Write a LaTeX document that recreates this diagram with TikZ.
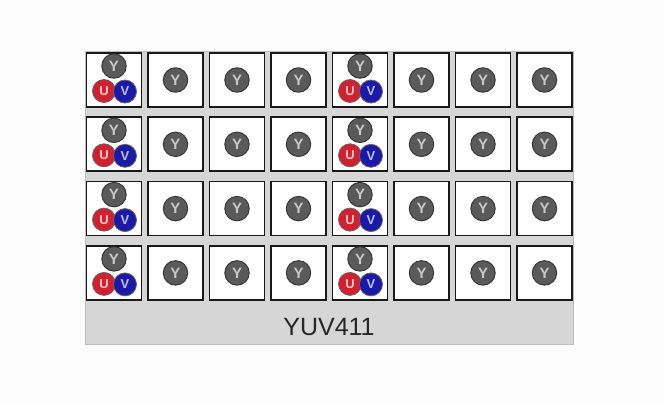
\documentclass[tikz,border=0pt]{standalone}
\usepackage{fontspec}
\setmainfont{Liberation Sans}
\definecolor{panelgray}{HTML}{D6D6D6}
\definecolor{paneledge}{HTML}{BDBDBD}
\definecolor{ygray}{HTML}{5A5A5A}
\definecolor{ured}{HTML}{D2202E}
\definecolor{vblue}{HTML}{1A1AA6}
\definecolor{lettergray}{HTML}{C8C8C8}
\begin{document}
\begin{tikzpicture}[x=1pt,y=-1pt,
  pixbox/.style={draw=black!90, line width=1.7pt, fill=white, minimum width=55pt, minimum height=54pt, inner sep=0pt},
  ydot/.style={circle, draw=black!80, line width=0.9pt, fill=ygray, minimum size=24.5pt, inner sep=0pt, text=lettergray, font=\bfseries\fontsize{15}{15}\selectfont},
  udot/.style={circle, draw=black!60, line width=0.8pt, fill=ured, minimum size=23pt, inner sep=0pt, text=red!20, font=\bfseries\fontsize{13}{13}\selectfont},
  vdot/.style={circle, draw=black!60, line width=0.8pt, fill=vblue, minimum size=23pt, inner sep=0pt, text=blue!25, font=\bfseries\fontsize{13}{13}\selectfont},
  lbl/.style={font=\fontsize{25}{25}\selectfont, text=black!85}
]
\useasboundingbox (0,0) rectangle (664,402);
\fill[white!99!black] (0,0) rectangle (664,402);
\node[draw=paneledge, line width=0.8pt, fill=panelgray, minimum width=488pt, minimum height=293pt, inner sep=0pt] (panel) at (329,197.5) {};
\foreach \r in {0,...,3}{
  \foreach \c in {0,...,7}{
    \pgfmathsetmacro{\cx}{114+61.5*\c}
    \pgfmathsetmacro{\cy}{80+64.3*\r}
    \node[pixbox] (b-\r-\c) at (\cx,\cy) {};
  }
}
\foreach \r in {0,...,3}{
  \foreach \c in {0,4}{
    \node[ydot] (y-\r-\c) at ([xshift=0pt,yshift=14pt]b-\r-\c.center) {Y};
    \node[udot] (u-\r-\c) at ([xshift=-10pt,yshift=-11pt]b-\r-\c.center) {U};
    \node[vdot] (v-\r-\c) at ([xshift=11pt,yshift=-11.5pt]b-\r-\c.center) {V};
  }
  \foreach \c in {1,2,3,5,6,7}{
    \node[ydot] (y-\r-\c) at (b-\r-\c.center) {Y};
  }
}
\node[lbl] (label) at (329,327) {YUV411};
\end{tikzpicture}
\end{document}
